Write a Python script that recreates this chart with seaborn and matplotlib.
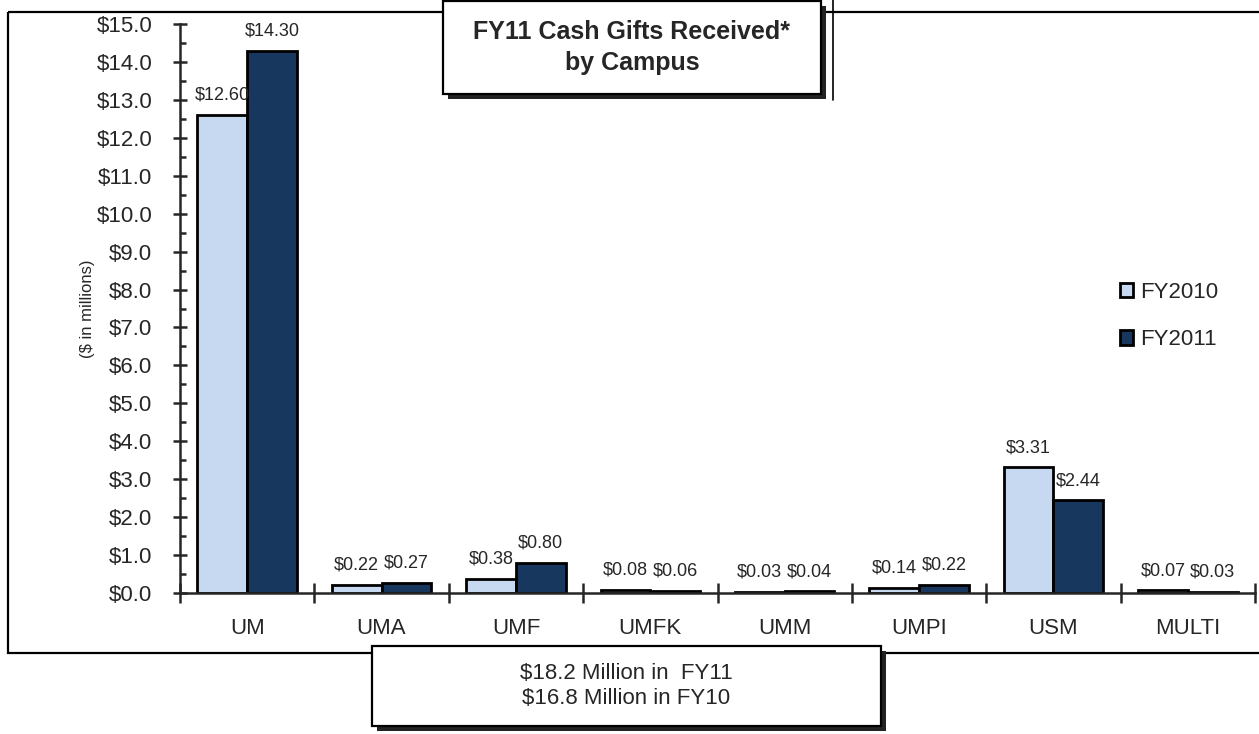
import pandas as pd
import numpy as np
import matplotlib
matplotlib.use("Agg")
import matplotlib.pyplot as plt
import seaborn as sns
from matplotlib.patches import Rectangle
from matplotlib.ticker import MultipleLocator, FixedLocator, StrMethodFormatter

# data
campuses = ["UM", "UMA", "UMF", "UMFK", "UMM", "UMPI", "USM", "MULTI"]
fy2010 = [12.60, 0.22, 0.38, 0.08, 0.03, 0.14, 3.31, 0.07]
fy2011 = [14.30, 0.27, 0.80, 0.06, 0.04, 0.22, 2.44, 0.03]
years = ["FY2010", "FY2011"]
colors = ["#C6D9F0", "#17375E"]

df = pd.DataFrame({
    "campus": campuses * 2,
    "year": [years[0]] * len(campuses) + [years[1]] * len(campuses),
    "value": fy2010 + fy2011,
})

sns.set_style("white")
plt.rcParams["font.family"] = ["Liberation Sans", "DejaVu Sans"]

W, H = 1259, 734
fig = plt.figure(figsize=(W / 100, H / 100), dpi=100)
ax = fig.add_axes([180 / W, 1 - 593 / H, 1075 / W, (593 - 24) / H])

sns.barplot(data=df, x="campus", y="value", hue="year", order=campuses,
            hue_order=years, palette=colors, width=0.74, edgecolor="black",
            linewidth=2, saturation=1, ax=ax)

for cont in ax.containers:
    ax.bar_label(cont, labels=["${:.2f}".format(v) for v in cont.datavalues],
                 padding=8, fontsize=13)

ax.set_ylim(0, 15)
ax.set_xlim(-0.5, len(campuses) - 0.5)
for s in ["top", "right"]:
    ax.spines[s].set_visible(False)
for s in ["left", "bottom"]:
    ax.spines[s].set_linewidth(1.8)

# y ticks
ax.yaxis.set_major_locator(MultipleLocator(1))
ax.yaxis.set_minor_locator(MultipleLocator(0.5))
ax.yaxis.set_major_formatter(StrMethodFormatter("${x:.1f}"))
ax.tick_params(axis="y", which="major", direction="inout", length=10, width=1.8,
               labelsize=16, pad=15, left=True)
ax.tick_params(axis="y", which="minor", direction="in", length=4, width=1.8, left=True)

# x ticks: boundaries as major, labels on minor
pos = np.arange(len(campuses))
ax.xaxis.set_major_locator(FixedLocator(np.arange(len(campuses) + 1) - 0.5))
ax.xaxis.set_minor_locator(FixedLocator(pos))
ax.set_xticklabels([], minor=False)
ax.set_xticklabels(campuses, minor=True)
ax.tick_params(axis="x", which="major", direction="inout", length=14, width=1.8, bottom=True)
ax.tick_params(axis="x", which="minor", length=0, labelsize=16, pad=18)
ax.set_xlabel("")

ax.set_ylabel("($ in millions)", fontsize=12)
ax.yaxis.set_label_coords((95 - 180) / 1075, 0.5)

# legend
handles, labels = ax.get_legend_handles_labels()
for h in handles:
    h.set_edgecolor("black")
    h.set_linewidth(2)
ax.legend(handles, labels, loc="center left", bbox_to_anchor=(1120 / W, 1 - 316 / H),
          bbox_transform=fig.transFigure, frameon=False, fontsize=16,
          handlelength=0.6, handleheight=0.6, handletextpad=0.3,
          labelspacing=1.2, borderpad=0, borderaxespad=0)

# overlay for frame and text boxes (pixel coordinates)
ov = fig.add_axes([0, 0, 1, 1], zorder=5)
ov.set_xlim(0, W)
ov.set_ylim(H, 0)
ov.axis("off")
ov.patch.set_alpha(0)

ov.add_patch(Rectangle((8, 12), W + 10, 641, fill=False, edgecolor="black", lw=1.6))
ov.plot([833, 833], [0, 100], color="black", lw=1.2)


def shadow_box(x0, y0, w, h, text, ls=1.2, **kw):
    ov.add_patch(Rectangle((x0 + 5, y0 + 5), w, h, facecolor="#222222", edgecolor="none"))
    ov.add_patch(Rectangle((x0, y0), w, h, facecolor="white", edgecolor="black", lw=1.6))
    ov.text(x0 + w / 2, y0 + h / 2, text, ha="center", va="center",
            linespacing=ls, **kw)


shadow_box(443, 1, 378, 93, "FY11 Cash Gifts Received*\nby Campus", ls=1.4,
           fontsize=18, fontweight="bold")
shadow_box(372, 646, 509, 80, "$18.2 Million in  FY11\n$16.8 Million in FY10",
           fontsize=16)

fig.savefig("out.png", dpi=100)
